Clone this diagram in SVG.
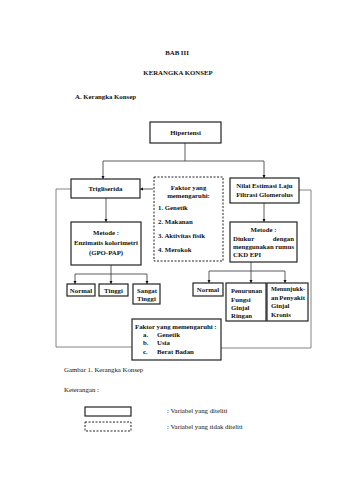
<svg xmlns="http://www.w3.org/2000/svg" width="339" height="480" viewBox="0 0 339 480">
<style>
text{font-family:"Liberation Serif","Times New Roman",serif;font-size:6.8px;fill:#111}
.b{font-weight:bold}
.c{text-anchor:middle}
.box{fill:#fff;stroke:#222;stroke-width:1.2}
.dash{fill:#fff;stroke:#222;stroke-width:1;stroke-dasharray:2,1.5}
.ln{fill:none;stroke:#333;stroke-width:0.8}
.gl{fill:none;stroke:#777;stroke-width:0.9}
</style>
<defs>
<marker id="ar" viewBox="0 0 6 6" refX="6" refY="3" markerWidth="4" markerHeight="4" orient="auto"><path d="M0,0 L6,3 L0,6 z" fill="#111"/></marker>
</defs>
<rect width="339" height="480" fill="#fff"/>
<text class="b c" x="177" y="55">BAB III</text>
<text class="b c" x="178" y="75">KERANGKA KONSEP</text>
<text class="b" x="75" y="99">A.  Kerangka Konsep</text>

<g id="connectors">
<path class="ln" d="M185,143 V161 M103,161 H264"/>
<path class="ln" d="M103,161 V179" marker-end="url(#ar)"/>
<path class="ln" d="M264,161 V178" marker-end="url(#ar)"/>
<path class="ln" d="M153,189 H140" marker-end="url(#ar)"/>
<path class="ln" d="M106,198 V222" marker-end="url(#ar)"/>
<path class="ln" d="M111,265 V274 M75,274 H147"/>
<path class="ln" d="M75,274 V284" marker-end="url(#ar)"/>
<path class="ln" d="M111,274 V284" marker-end="url(#ar)"/>
<path class="ln" d="M147,274 V284" marker-end="url(#ar)"/>
<path class="ln" d="M264,203 V222" marker-end="url(#ar)"/>
<path class="ln" d="M251,262 V271 M209,271 H285"/>
<path class="ln" d="M209,271 V283" marker-end="url(#ar)"/>
<path class="ln" d="M251,271 V283" marker-end="url(#ar)"/>
<path class="ln" d="M285,271 V283" marker-end="url(#ar)"/>
<path class="gl" d="M71,189 H56 V347 H132"/>
<path class="gl" d="M299,190 H311 V348 H221"/>
</g>

<g id="hipertensi"><rect class="box" x="150" y="122" width="71" height="21"/><text class="b c" x="185.5" y="134.5">Hipertensi</text></g>
<g id="trigliserida"><rect class="box" x="71" y="179" width="69" height="19"/><text class="b c" x="105.5" y="190.5">Trigliserida</text></g>
<g id="faktor1"><rect class="dash" x="154" y="177" width="69" height="84"/>
<text class="b c" x="188.5" y="190">Faktor yang</text><text class="b c" x="188.5" y="198">memengaruhi:</text>
<text class="b" x="158" y="210">1. Genetik</text><text class="b" x="158" y="224">2. Makanan</text><text class="b" x="158" y="238">3. Aktivitas fisik</text><text class="b" x="158" y="252">4. Merokok</text></g>
<g id="nilai"><rect class="box" x="230" y="178" width="69" height="25"/><text class="b c" x="264.5" y="188">Nilai Estimasi Laju</text><text class="b c" x="264.5" y="197">Filtrasi Glomerolus</text></g>
<g id="metode1"><rect class="box" x="71" y="222" width="70" height="43"/><text class="b c" x="106" y="235">Metode :</text><text class="b c" x="106" y="245">Enzimatis kolorimetri</text><text class="b c" x="106" y="255">(GPO-PAP)</text></g>
<g id="metode2"><rect class="box" x="230" y="222" width="67" height="40"/><text class="b c" x="263.5" y="232">Metode :</text><text class="b" x="233" y="240.5">Diukur</text><text class="b" x="294" y="240.5" text-anchor="end">dengan</text><text class="b" x="233" y="248.5" textLength="61" lengthAdjust="spacingAndGlyphs">menggunakan rumus</text><text class="b" x="233" y="256.5">CKD EPI</text></g>
<g id="normal1"><rect class="box" x="67" y="284" width="28" height="12"/><text class="b c" x="81" y="292.5">Normal</text></g>
<g id="tinggi"><rect class="box" x="99" y="284" width="29" height="12"/><text class="b c" x="113.5" y="292.5">Tinggi</text></g>
<g id="sangat"><rect class="box" x="133" y="284" width="27" height="20"/><text class="b" x="137" y="292.5">Sangat</text><text class="b" x="137" y="301">Tinggi</text></g>
<g id="normal2"><rect class="box" x="193" y="283" width="30" height="13"/><text class="b c" x="208" y="292">Normal</text></g>
<g id="penurunan"><rect class="box" x="226" y="283" width="40" height="38"/><text class="b" x="231" y="293" textLength="31" lengthAdjust="spacingAndGlyphs">Penurunan</text><text class="b" x="231" y="301.5">Fungsi</text><text class="b" x="231" y="309.5">Ginjal</text><text class="b" x="231" y="317.5">Ringan</text></g>
<g id="menunjukkan"><rect class="box" x="267" y="283" width="41" height="38"/><text class="b" x="271" y="291" textLength="34" lengthAdjust="spacingAndGlyphs">Menunjukk-</text><text class="b" x="271" y="299.5">an</text><text class="b" x="305" y="299.5" text-anchor="end">Penyakit</text><text class="b" x="271" y="308">Ginjal</text><text class="b" x="271" y="316.5">Kronis</text></g>
<g id="faktor2"><rect class="box" x="132" y="319" width="89" height="41"/><text class="b" x="135" y="328.5">Faktor yang memengaruhi :</text>
<text class="b" x="143" y="337">a.</text><text class="b" x="157" y="337">Genetik</text>
<text class="b" x="143" y="345">b.</text><text class="b" x="157" y="345">Usia</text>
<text class="b" x="143" y="353.5">c.</text><text class="b" x="157" y="353.5">Berat Badan</text></g>

<text x="64" y="372">Gambar 1. Kerangka Konsep</text>
<text x="64" y="392">Keterangan :</text>
<g id="legend">
<rect class="box" x="85" y="407" width="46" height="9"/>
<rect class="dash" x="85" y="422" width="46" height="9"/>
<text x="167" y="412.5">: Variabel yang diteliti</text>
<text x="167" y="428.5">: Variabel yang tidak diteliti</text>
</g>
</svg>
